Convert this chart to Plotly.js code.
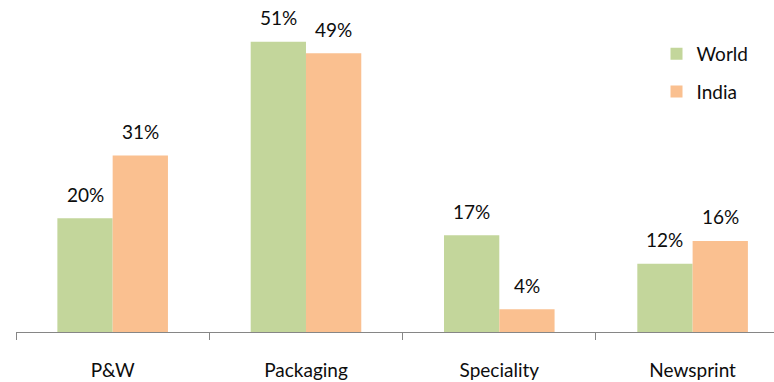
<!DOCTYPE html>
<html>
<head>
<meta charset="utf-8">
<script src="https://cdn.plot.ly/plotly-3.0.1.min.js"></script>
<style>
  html, body { margin: 0; padding: 0; background: #fff; }
  #chart { width: 774px; height: 382px; }
</style>
</head>
<body>
<div id="chart"></div>
<script>
// Paper grade mix: share of consumption, World vs India (%)
const categories = ["P&W", "Packaging", "Speciality", "Newsprint"];
const worldShare = [20, 51, 17, 12];
const indiaShare = [31, 49, 4, 16];
const seriesNames = ["World", "India"];
const seriesColors = ["#C3D69B", "#FAC090"];

const FONT = "Lato, 'Open Sans', sans-serif";
const TEXT_COLOR = "#0d0d0d";
const BARGAP = 0.428;
// each bar takes half of the occupied group width (in category units)
const barWidth = (1 - BARGAP) / 2;

const traces = [worldShare, indiaShare].map((vals, i) => ({
  type: "bar",
  name: seriesNames[i],
  x: categories,
  y: vals,
  marker: { color: seriesColors[i], line: { width: 0 } },
  legendgroup: seriesNames[i],
  hoverinfo: "skip"
}));

// value labels sitting above each bar
const annotations = [];
[worldShare, indiaShare].forEach((vals, s) => {
  const offset = (s === 0 ? -1 : 1) * barWidth / 2;
  vals.forEach((v, i) => {
    annotations.push({
      x: i + offset,
      y: v,
      xref: "x",
      yref: "y",
      text: v + "%",
      showarrow: false,
      yanchor: "middle",
      yshift: 24,
      font: { family: FONT, size: 19, color: TEXT_COLOR }
    });
  });
});

const layout = {
  width: 774,
  height: 382,
  margin: { l: 16, r: 0, t: 0, b: 50 },
  paper_bgcolor: "#fff",
  plot_bgcolor: "#fff",
  barmode: "group",
  bargap: BARGAP,
  bargroupgap: 0,
  font: { family: FONT, size: 19, color: TEXT_COLOR },
  xaxis: {
    type: "category",
    range: [-0.5, 3.421],
    showline: true,
    linecolor: "#868686",
    linewidth: 1,
    ticks: "outside",
    tickson: "boundaries",
    ticklen: 7,
    tickcolor: "#868686",
    tickwidth: 1,
    ticklabelstandoff: 21,
    tickfont: { family: FONT, size: 19, color: TEXT_COLOR },
    showgrid: false,
    zeroline: false,
    fixedrange: true
  },
  yaxis: {
    range: [0, 58.35],
    visible: false,
    fixedrange: true
  },
  showlegend: true,
  legend: {
    x: 0.845,
    y: 0.895,
    xanchor: "left",
    yanchor: "top",
    traceorder: "grouped",
    tracegroupgap: 10,
    bgcolor: "rgba(0,0,0,0)",
    font: { family: FONT, size: 19, color: TEXT_COLOR },
    itemwidth: 30
  },
  annotations: annotations
};

Plotly.newPlot("chart", traces, layout, { displayModeBar: false, staticPlot: true });
</script>
</body>
</html>
